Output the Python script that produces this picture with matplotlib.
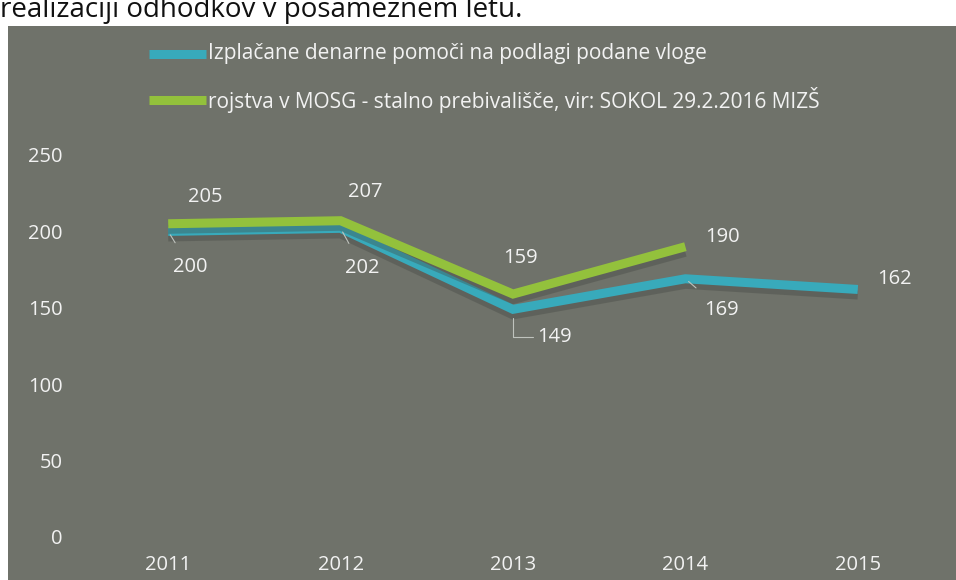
import matplotlib
matplotlib.use("Agg")
import matplotlib.pyplot as plt
import matplotlib.patheffects as pe
from matplotlib.patches import Rectangle

years = ["2011", "2012", "2013", "2014", "2015"]
izplacane = [200, 202, 149, 169, 162]
rojstva = [205, 207, 159, 190]
label_izpl = "Izplačane denarne pomoči na podlagi podane vloge"
label_roj = "rojstva v MOSG - stalno prebivališče, vir: SOKOL 29.2.2016 MIZŠ"
title_text = "realizaciji odhodkov v posameznem letu."
yticks = [0, 50, 100, 150, 200, 250]

W, H = 956, 580
FONT = "Open Sans"
BG = "#6f726a"
BLUE = "#38aabb"
GREEN = "#93c13c"
TXT = "#f2f2f2"
FS = 14.5

fig = plt.figure(figsize=(W / 100, H / 100), dpi=100)
fig.patch.set_facecolor("white")

# gray chart block
fig.add_artist(Rectangle((8 / W, 0), 1 - 8 / W, (H - 26) / H,
                         transform=fig.transFigure, facecolor=BG, edgecolor="none", zorder=0))
# heading from the page, partly cut off at the top as in the scan
fig.text(0, 1 - 17 / H, title_text, fontsize=20, family=FONT, color="#111111",
         va="baseline", ha="left")

ax = fig.add_axes([82 / W, (H - 537) / H, (944 - 82) / W, (537 - 155) / H])
ax.set_facecolor("none")
x = list(range(len(years)))
ax.set_xlim(-0.5, 4.5)
ax.set_ylim(0, 250)

shadow = [pe.SimpleLineShadow(offset=(0, -4), shadow_color="#41443f", alpha=0.35), pe.Normal()]
ax.plot(x, izplacane, color=BLUE, lw=6.5, solid_capstyle="butt", solid_joinstyle="miter",
        path_effects=shadow, zorder=3)
ax.plot(x[:len(rojstva)], rojstva, color=GREEN, lw=6.5, solid_capstyle="butt",
        solid_joinstyle="miter", path_effects=shadow, zorder=4)

for s in ax.spines.values():
    s.set_visible(False)
ax.set_yticks(yticks)
ax.set_yticklabels([str(v) for v in yticks])
ax.set_xticks(x)
ax.set_xticklabels(years)
ax.tick_params(length=0, colors=TXT, labelsize=FS)
ax.tick_params(axis="y", pad=14)
ax.tick_params(axis="x", pad=13)
for lab in ax.get_xticklabels() + ax.get_yticklabels():
    lab.set_family(FONT)
    lab.set_color(TXT)

# data labels (offsets in pixels -> points)
def px(dx, dy):
    return (dx * 0.72, -dy * 0.72)

g_off = [(37, -27), (25, -29), (7, -36), (37, -10)]
for xi, v, off in zip(x, rojstva, g_off):
    ax.annotate(str(v), (xi, v), xytext=px(*off), textcoords="offset points",
                ha="center", va="center", color=TXT, fontsize=FS, family=FONT, zorder=6)

b_off = [(22, 36), (22, 40), (41, 28), (36, 31), (37, -10)]
leader = [True, True, False, True, False]
for xi, v, off, ld in zip(x, izplacane, b_off, leader):
    arrow = dict(arrowstyle="-", color="#bfc3bd", lw=0.8, shrinkA=10, shrinkB=3) if ld else None
    ax.annotate(str(v), (xi, v), xytext=px(*off), textcoords="offset points",
                ha="center", va="center", color=TXT, fontsize=FS, family=FONT, zorder=6,
                arrowprops=arrow)
# elbow leader for 2013
ax.annotate("", (2, izplacane[2]), xytext=px(20, 28), textcoords="offset points",
            arrowprops=dict(arrowstyle="-", color="#bfc3bd", lw=0.8,
                            connectionstyle="angle,angleA=0,angleB=90,rad=0",
                            shrinkA=0, shrinkB=6))

# legend
for i, (lab, col) in enumerate([(label_izpl, BLUE), (label_roj, GREEN)]):
    yy = 1 - (54 + 46 * i) / H
    fig.add_artist(plt.Line2D([149 / W, 206 / W], [yy, yy], transform=fig.transFigure,
                              color=col, lw=6.5, solid_capstyle="butt"))
    fig.text(208 / W, yy, lab, fontsize=15, family=FONT, color=TXT, va="center", ha="left")

fig.savefig("out.png", dpi=100, facecolor=fig.get_facecolor())
